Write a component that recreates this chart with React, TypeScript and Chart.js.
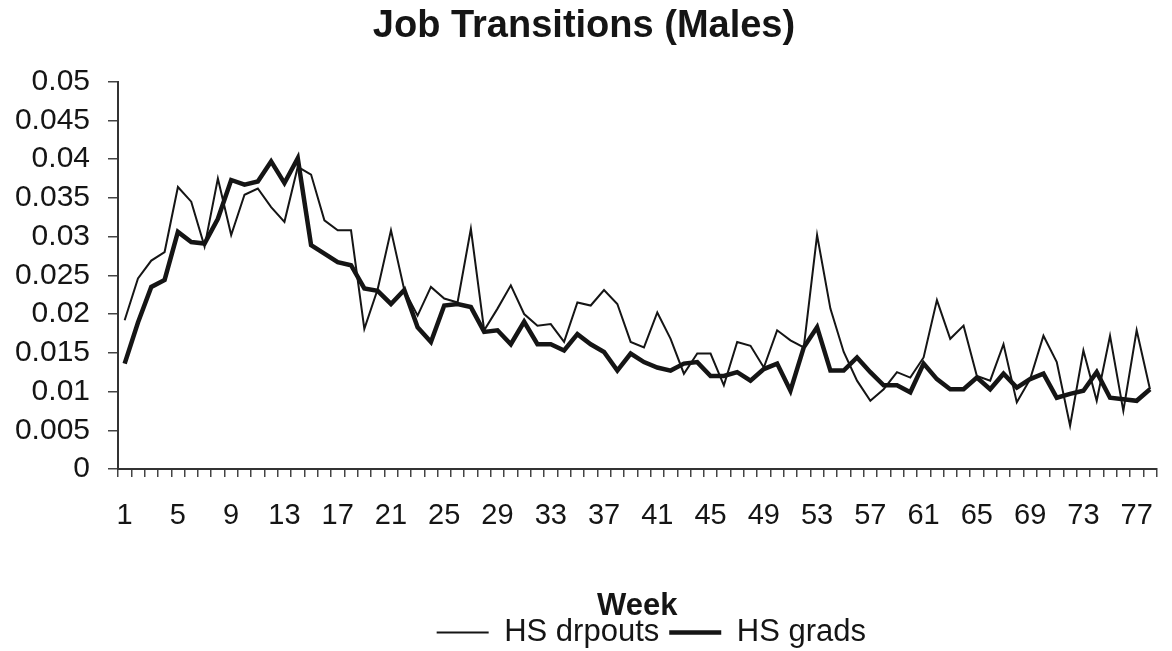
import React, { useEffect, useRef } from "react";
import { Chart, registerables } from "chart.js";

Chart.register(...registerables);

const weeks: string[] = [
  "1","2","3","4","5","6","7","8","9","10","11","12","13","14","15","16","17","18","19","20",
  "21","22","23","24","25","26","27","28","29","30","31","32","33","34","35","36","37","38","39","40",
  "41","42","43","44","45","46","47","48","49","50","51","52","53","54","55","56","57","58","59","60",
  "61","62","63","64","65","66","67","68","69","70","71","72","73","74","75","76","77","78",
];

const hsDropouts: number[] = [
  0.0192, 0.0246, 0.0269, 0.028, 0.0364, 0.0345, 0.0287, 0.0375, 0.0302, 0.0354,
  0.0362, 0.0338, 0.0319, 0.039, 0.038, 0.0321, 0.0308, 0.0308, 0.0181, 0.0232,
  0.0308, 0.0231, 0.0198, 0.0235, 0.022, 0.0215, 0.031, 0.0179, 0.0207, 0.0237,
  0.02, 0.0185, 0.0187, 0.0164, 0.0215, 0.0211, 0.0231, 0.0213, 0.0164, 0.0157,
  0.0202, 0.0168, 0.0123, 0.0149, 0.0149, 0.0108, 0.0164, 0.0159, 0.0131, 0.0179,
  0.0166, 0.0157, 0.0302, 0.0207, 0.0151, 0.0114, 0.0088, 0.0103, 0.0125, 0.0118,
  0.0144, 0.0218, 0.0168, 0.0185, 0.012, 0.0114, 0.0161, 0.0086, 0.0116, 0.0172,
  0.0138, 0.0056, 0.0153, 0.0088, 0.0172, 0.0075, 0.0179, 0.0103,
];

const hsGrads: number[] = [
  0.0136, 0.0189, 0.0235, 0.0244, 0.0306, 0.0293, 0.0291, 0.0323, 0.0373, 0.0367,
  0.0371, 0.0397, 0.0369, 0.0401, 0.0289, 0.0278, 0.0267, 0.0263, 0.0233, 0.023,
  0.0213, 0.0231, 0.0183, 0.0164, 0.0211, 0.0213, 0.0209, 0.0177, 0.0179, 0.0161,
  0.019, 0.0161, 0.0161, 0.0153, 0.0174, 0.0161, 0.0151, 0.0127, 0.0149, 0.0138,
  0.0131, 0.0127, 0.0136, 0.0138, 0.012, 0.012, 0.0125, 0.0114, 0.0129, 0.0136,
  0.0101, 0.0157, 0.0183, 0.0127, 0.0127, 0.0144, 0.0125, 0.0108, 0.0108, 0.0099,
  0.0136, 0.0116, 0.0103, 0.0103, 0.0118, 0.0103, 0.0123, 0.0105, 0.0116, 0.0123,
  0.0092, 0.0097, 0.0101, 0.0125, 0.0092, 0.009, 0.0088, 0.0103,
];

const seriesNames = ["HS drpouts", "HS grads"];
const chartTitle = "Job Transitions (Males)";
const xTitle = "Week";

const FONT = "'Liberation Sans', Arial, Helvetica, sans-serif";
const INK = "#151515";

const legendShift = {
  id: "legendShift",
  afterLayout(chart: any) {
    if (chart.legend) {
      chart.legend.left += 14;
      chart.legend.right += 14;
    }
  },
};

export default function App() {
  const canvasRef = useRef<HTMLCanvasElement | null>(null);

  useEffect(() => {
    if (!canvasRef.current) return;
    Chart.defaults.font.family = FONT;
    Chart.defaults.color = INK;
    const chart = new Chart(canvasRef.current, {
      type: "line",
      data: {
        labels: weeks,
        datasets: [
          {
            label: seriesNames[0],
            data: hsDropouts,
            borderColor: INK,
            backgroundColor: INK,
            borderWidth: 2,
            pointRadius: 0,
            tension: 0,
          },
          {
            label: seriesNames[1],
            data: hsGrads,
            borderColor: INK,
            backgroundColor: INK,
            borderWidth: 4.5,
            pointRadius: 0,
            tension: 0,
          },
        ],
      },
      plugins: [legendShift],
      options: {
        animation: false,
        responsive: true,
        maintainAspectRatio: false,
        layout: { padding: { left: 0, right: 4, top: 0, bottom: 2 } },
        plugins: {
          title: {
            display: true,
            text: chartTitle,
            color: INK,
            font: { size: 38, weight: "bold", family: FONT },
            padding: { top: 4, bottom: 32 },
          },
          legend: {
            display: true,
            position: "bottom",
            fullSize: false,
            labels: {
              usePointStyle: true,
              pointStyle: "line",
              pointStyleWidth: 52,
              boxHeight: 4,
              padding: 10,
              color: INK,
              font: { size: 31, family: FONT },
            },
          },
          tooltip: { enabled: false },
        },
        scales: {
          x: {
            type: "category",
            offset: true,
            afterFit: (scale: any) => {
              scale.height = 138;
            },
            grid: {
              display: true,
              offset: true,
              drawOnChartArea: false,
              drawTicks: true,
              tickLength: 8,
              color: "#444",
              lineWidth: 1.5,
            },
            border: { display: true, color: "#333", width: 2 },
            ticks: {
              autoSkip: false,
              maxRotation: 0,
              minRotation: 0,
              padding: 22,
              color: INK,
              font: { size: 29, family: FONT },
              callback: (_v: any, i: number) => (i % 4 === 0 ? weeks[i] : ""),
            },
            title: {
              display: true,
              text: xTitle,
              color: INK,
              font: { size: 31, weight: "bold", family: FONT },
              padding: { top: 0, bottom: -18 },
            },
          },
          y: {
            min: 0,
            max: 0.05,
            afterFit: (scale: any) => {
              scale.width = 118;
            },
            grid: {
              display: true,
              drawOnChartArea: false,
              drawTicks: true,
              tickLength: 10,
              color: "#444",
              lineWidth: 1.5,
            },
            border: { display: true, color: "#333", width: 2 },
            ticks: {
              stepSize: 0.005,
              autoSkip: false,
              padding: 18,
              color: INK,
              font: { size: 30, family: FONT },
              callback: (v: any) => String(Number(Number(v).toFixed(3))),
            },
          },
        },
      },
    });
    return () => chart.destroy();
  }, []);

  return (
    <div
      style={{
        position: "absolute",
        left: 0,
        top: 0,
        width: 1172,
        height: 651,
        overflow: "hidden",
        background: "#fff",
      }}
    >
      <div style={{ position: "relative", width: 1172, height: 660 }}>
        <canvas ref={canvasRef} />
      </div>
    </div>
  );
}
